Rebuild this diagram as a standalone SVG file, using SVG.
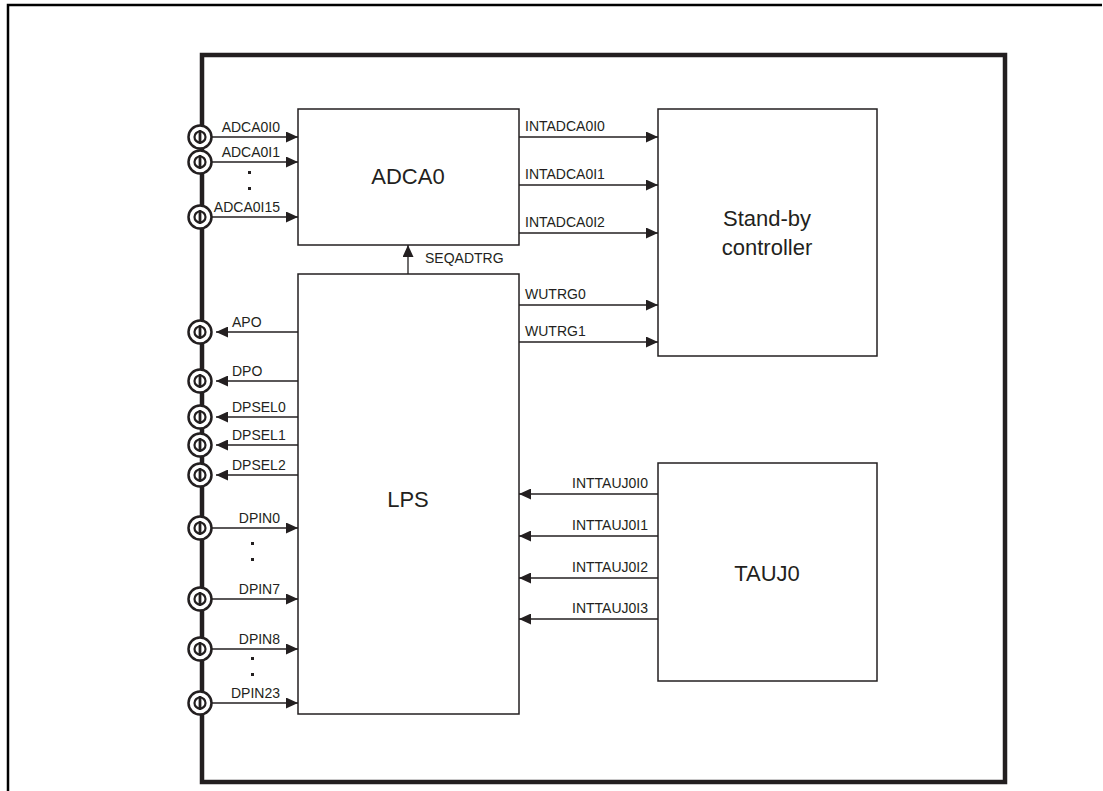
<svg xmlns="http://www.w3.org/2000/svg" width="1103" height="791" viewBox="0 0 1103 791">
<defs>
<marker id="ah" markerUnits="userSpaceOnUse" markerWidth="12" markerHeight="11" refX="12" refY="5.5" orient="auto">
<path d="M0,0 L12,5.5 L0,11 z" fill="#231f20"/>
</marker>
<g id="pin">
<circle cx="0" cy="0" r="11.5" fill="#fff" stroke="#231f20" stroke-width="2.5"/>
<circle cx="0" cy="0" r="5.5" fill="#fff" stroke="#231f20" stroke-width="2.2"/>
<line x1="0" y1="-7" x2="0" y2="7" stroke="#231f20" stroke-width="2.8"/>
</g>
</defs>
<style>
.box{fill:#fff;stroke:#231f20;stroke-width:1.5}
.w{stroke:#231f20;stroke-width:1.3;fill:none;marker-end:url(#ah)}
.t{font-family:"Liberation Sans",Arial,sans-serif;font-size:14px;fill:#231f20}
.b{font-family:"Liberation Sans",Arial,sans-serif;font-size:22px;fill:#231f20;text-anchor:middle}
.e{text-anchor:end}
.dot{fill:#231f20}
</style>
<rect width="1103" height="791" fill="#fff"/>
<g id="outer">
<path d="M8,791 V5 H1102" fill="none" stroke="#000" stroke-width="2.5"/>
</g>
<g id="chip">
<rect x="202" y="55" width="803" height="727" fill="none" stroke="#231f20" stroke-width="4.5"/>
</g>
<g id="ADCA0">
<rect class="box" x="298" y="109" width="221" height="136"/>
<text class="b" x="408" y="184">ADCA0</text>
</g>
<g id="standby">
<rect class="box" x="658" y="109" width="219" height="247"/>
<text class="b" x="767" y="226">Stand-by</text>
<text class="b" x="767" y="255">controller</text>
</g>
<g id="LPS">
<rect class="box" x="298" y="274" width="221" height="440"/>
<text class="b" x="408" y="507">LPS</text>
</g>
<g id="TAUJ0">
<rect class="box" x="658" y="463" width="219" height="218"/>
<text class="b" x="767" y="581">TAUJ0</text>
</g>
<g id="pins">
<use href="#pin" x="200" y="137"/>
<use href="#pin" x="200" y="162"/>
<use href="#pin" x="200" y="217"/>
<use href="#pin" x="200" y="332"/>
<use href="#pin" x="200" y="381"/>
<use href="#pin" x="200" y="417"/>
<use href="#pin" x="200" y="445"/>
<use href="#pin" x="200" y="475"/>
<use href="#pin" x="200" y="528"/>
<use href="#pin" x="200" y="599"/>
<use href="#pin" x="200" y="649"/>
<use href="#pin" x="200" y="703"/>
</g>
<g id="connectors">
<line class="w" x1="212" y1="137" x2="298" y2="137"/>
<line class="w" x1="212" y1="162" x2="298" y2="162"/>
<line class="w" x1="212" y1="217" x2="298" y2="217"/>
<line class="w" x1="298" y1="332" x2="216" y2="332"/>
<line class="w" x1="298" y1="381" x2="216" y2="381"/>
<line class="w" x1="298" y1="417" x2="216" y2="417"/>
<line class="w" x1="298" y1="445" x2="216" y2="445"/>
<line class="w" x1="298" y1="475" x2="216" y2="475"/>
<line class="w" x1="212" y1="528" x2="298" y2="528"/>
<line class="w" x1="212" y1="599" x2="298" y2="599"/>
<line class="w" x1="212" y1="649" x2="298" y2="649"/>
<line class="w" x1="212" y1="703" x2="298" y2="703"/>
<line class="w" x1="408" y1="274" x2="408" y2="245"/>
<line class="w" x1="519" y1="137" x2="658" y2="137"/>
<line class="w" x1="519" y1="185" x2="658" y2="185"/>
<line class="w" x1="519" y1="233" x2="658" y2="233"/>
<line class="w" x1="519" y1="305" x2="658" y2="305"/>
<line class="w" x1="519" y1="342" x2="658" y2="342"/>
<line class="w" x1="658" y1="494" x2="519" y2="494"/>
<line class="w" x1="658" y1="536" x2="519" y2="536"/>
<line class="w" x1="658" y1="578" x2="519" y2="578"/>
<line class="w" x1="658" y1="619" x2="519" y2="619"/>
</g>
<g id="labels">
<text class="t e" x="280" y="132">ADCA0I0</text>
<text class="t e" x="280" y="157">ADCA0I1</text>
<text class="t e" x="280" y="212">ADCA0I15</text>
<text class="t" x="232" y="327">APO</text>
<text class="t" x="232" y="376">DPO</text>
<text class="t" x="232" y="412">DPSEL0</text>
<text class="t" x="232" y="440">DPSEL1</text>
<text class="t" x="232" y="470">DPSEL2</text>
<text class="t e" x="280" y="523">DPIN0</text>
<text class="t e" x="280" y="594">DPIN7</text>
<text class="t e" x="280" y="644">DPIN8</text>
<text class="t e" x="280" y="698">DPIN23</text>
<text class="t" x="425" y="263">SEQADTRG</text>
<text class="t" x="525" y="131">INTADCA0I0</text>
<text class="t" x="525" y="179">INTADCA0I1</text>
<text class="t" x="525" y="227">INTADCA0I2</text>
<text class="t" x="525" y="299">WUTRG0</text>
<text class="t" x="525" y="336">WUTRG1</text>
<text class="t e" x="648" y="488">INTTAUJ0I0</text>
<text class="t e" x="648" y="530">INTTAUJ0I1</text>
<text class="t e" x="648" y="572">INTTAUJ0I2</text>
<text class="t e" x="648" y="613">INTTAUJ0I3</text>
</g>
<g id="dots">
<rect class="dot" x="248" y="171" width="3" height="3"/>
<rect class="dot" x="248" y="187" width="3" height="3"/>
<rect class="dot" x="251" y="542" width="3" height="3"/>
<rect class="dot" x="251" y="558" width="3" height="3"/>
<rect class="dot" x="251" y="657" width="3" height="3"/>
<rect class="dot" x="251" y="673" width="3" height="3"/>
</g>
</svg>
